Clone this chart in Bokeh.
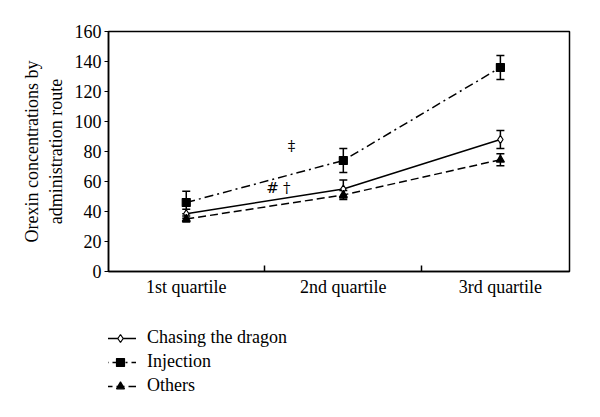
from bokeh.plotting import figure
from bokeh.models import (Range1d, FixedTicker, Whisker, ColumnDataSource,
                          Legend, LegendItem)
from bokeh.layouts import column
from bokeh.core.properties import value
from bokeh.embed import file_html
from bokeh.resources import INLINE

# ---- data ----
categories = ["1st quartile", "2nd quartile", "3rd quartile"]
x_pos = [1, 2, 3]
chasing = [38.5, 55, 88]
chasing_err = [3, 6, 6]
injection = [46, 74, 136]
injection_err = [7.5, 8, 8]
others = [35, 51, 74.5]
others_err = [2, 3, 4]
y_ticks = [0, 20, 40, 60, 80, 100, 120, 140, 160]

ann_x = [1.67, 1.55, 1.64]
ann_y = [84, 55.5, 55.5]
ann_text = ["‡", "#", "†"]

FONT = "Liberation Serif"

p = figure(frame_width=461, frame_height=240,
           min_border_left=108, min_border_right=31,
           min_border_top=31, min_border_bottom=0,
           x_range=Range1d(0.505, 3.44), y_range=Range1d(0, 160),
           output_backend="svg", toolbar_location=None)

p.grid.visible = False
p.outline_line_color = "black"
p.outline_line_width = 1.5
p.outline_line_alpha = 1
p.background_fill_color = "white"
p.border_fill_color = "white"

# y axis
p.yaxis.ticker = FixedTicker(ticks=y_ticks)
p.yaxis.major_tick_in = 0
p.yaxis.major_tick_out = 4
p.yaxis.minor_tick_in = 0
p.yaxis.minor_tick_out = 0
p.yaxis.major_label_standoff = 3
p.yaxis.major_label_text_font = FONT
p.yaxis.major_label_text_font_size = "18px"
p.yaxis.major_label_text_color = "black"
p.yaxis.axis_label = "Orexin concentrations by\nadministration route"
p.yaxis.axis_label_text_font = FONT
p.yaxis.axis_label_text_font_size = "18px"
p.yaxis.axis_label_text_font_style = "normal"
p.yaxis.axis_label_text_color = "black"
p.yaxis.axis_label_standoff = 6
p.yaxis.axis_line_width = 1.5

# x axis
p.xaxis.ticker = FixedTicker(ticks=x_pos, minor_ticks=[1.5, 2.5])
p.xaxis.major_label_overrides = {x: c for x, c in zip(x_pos, categories)}
p.xaxis.major_tick_in = 0
p.xaxis.major_tick_out = 0
p.xaxis.minor_tick_in = 6
p.xaxis.minor_tick_out = 0
p.xaxis.minor_tick_line_width = 1.5
p.xaxis.major_label_standoff = 5
p.xaxis.major_label_text_font = FONT
p.xaxis.major_label_text_font_size = "18px"
p.xaxis.major_label_text_color = "black"
p.xaxis.axis_line_width = 1.5

# legend figure (its renderers hold the same data, outside its visible range)
lg = figure(width=600, height=110, min_border=0,
            x_range=Range1d(-1, 0), y_range=Range1d(-1, 0),
            output_backend="svg", toolbar_location=None)
lg.axis.visible = False
lg.grid.visible = False
lg.outline_line_color = None
lg.background_fill_color = "white"
lg.border_fill_color = "white"

series_names = ["Chasing the dragon", "Injection", "Others"]
series = [
    (chasing, chasing_err, "solid", "diamond", 8, "white"),
    (injection, injection_err, "9 4 2 4", "square", 8, "black"),
    (others, others_err, "8 4", "triangle", 8, "black"),
]

items = []
for name, (vals, errs, dash, marker, size, fill) in zip(series_names, series):
    src = ColumnDataSource(dict(x=x_pos, y=vals,
                                lo=[v - e for v, e in zip(vals, errs)],
                                hi=[v + e for v, e in zip(vals, errs)]))
    w = Whisker(source=src, base="x", upper="hi", lower="lo",
                line_color="black", line_width=1.5)
    w.upper_head.size = 8
    w.lower_head.size = 8
    w.upper_head.line_width = 1.5
    w.lower_head.line_width = 1.5
    p.add_layout(w)
    p.line("x", "y", source=src, line_color="black", line_width=1.5,
           line_dash=dash)
    p.scatter("x", "y", source=src, marker=marker, size=size,
              fill_color=fill, line_color="black", line_width=1.2)
    ln = lg.line("x", "y", source=src, line_color="black", line_width=1.5,
                 line_dash=dash, line_dash_offset=11 if dash == "9 4 2 4" else 0)
    sc = lg.scatter("x", "y", source=src, marker=marker, size=size,
                    fill_color=fill, line_color="black", line_width=1.2)
    items.append(LegendItem(label=name, renderers=[ln, sc]))

p.text(x=ann_x, y=ann_y, text=ann_text, text_font=value("DejaVu Serif"),
       text_font_size="15px", text_color="black",
       text_align="center", text_baseline="middle")

legend = Legend(items=items, location=(-4, 13), orientation="vertical",
                glyph_width=32, glyph_height=20, label_height=20,
                label_standoff=11, spacing=3, padding=0, margin=0,
                label_text_font=FONT, label_text_font_size="18px",
                label_text_color="black",
                border_line_color=None, background_fill_alpha=0)
lg.add_layout(legend, "center")

layout = column(p, lg, spacing=0)
open("out.html", "w").write(file_html(layout, INLINE))
